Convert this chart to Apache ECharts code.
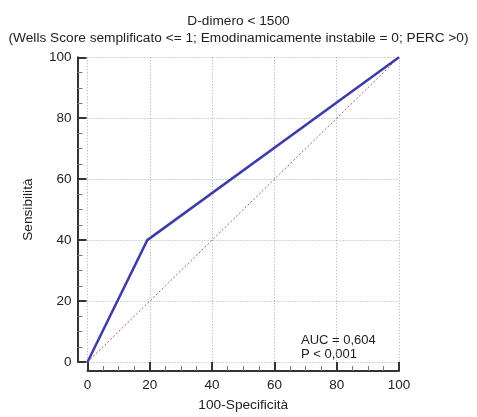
<!DOCTYPE html>
<html><head><meta charset="utf-8">
<script src="https://cdn.jsdelivr.net/npm/echarts@6/dist/echarts.min.js"></script>
<style>html,body{margin:0;padding:0;background:#fff}#c{width:477px;height:417px}</style>
</head><body><div id="c"></div>
<script>
var titleLines = ["D-dimero < 1500", "(Wells Score semplificato <= 1; Emodinamicamente instabile = 0; PERC >0)"];
var rocX = [0, 19.2, 100];
var rocY = [0, 40, 100];
var refX = [0, 100];
var refY = [0, 100];
var xName = "100-Specificità";
var yName = "Sensibilità";
var statsText = ["AUC = 0,604", "P < 0,001"];

var FONT = "'Liberation Sans', Arial, sans-serif";
var chart = echarts.init(document.getElementById('c'));
function pairs(xs, ys){ return xs.map(function(x,i){return [x, ys[i]];}); }
var axisCommon = {
  type: 'value', min: 0, max: 100, interval: 20,
  axisLine: {show: true, onZero: false, lineStyle: {color: '#333', width: 2}},
  axisTick: {show: true, inside: true, length: 9, lineStyle: {color: '#333', width: 2}},
  minorTick: {show: true, splitNumber: 4, length: 5, lineStyle: {color: '#777', width: 1}},
  splitLine: {show: true, lineStyle: {color: '#aaa', type: [1, 2], width: 1}},
  axisLabel: {color: '#222', fontSize: 13.5, fontFamily: FONT},
  nameLocation: 'middle',
  nameTextStyle: {color: '#222', fontSize: 13.7, fontFamily: FONT}
};
chart.setOption({
  animation: false,
  backgroundColor: '#fff',
  title: {
    text: titleLines.join('\n'), left: 'center', top: 8,
    textStyle: {fontSize: 13.7, fontWeight: 'normal', color: '#222', fontFamily: FONT, lineHeight: 17}
  },
  grid: {left: 87.5, right: 78, top: 57.3, bottom: 50.3, containLabel: false},
  xAxis: Object.assign({}, axisCommon, {
    offset: 9, name: xName, nameGap: 27,
    axisLabel: Object.assign({}, axisCommon.axisLabel, {margin: 7})
  }),
  yAxis: Object.assign({}, axisCommon, {
    offset: 10, name: yName, nameGap: 42,
    axisLabel: Object.assign({}, axisCommon.axisLabel, {margin: 6})
  }),
  graphic: [{
    type: 'text', left: 301, top: 333,
    style: {text: statsText.join('\n'), fill: '#222', font: '13px ' + FONT, lineHeight: 14}
  }],
  series: [
    {type: 'line', data: pairs(refX, refY), symbol: 'none', silent: true,
     lineStyle: {color: '#c05858', width: 1, type: [2, 2]}},
    {type: 'line', data: pairs(rocX, rocY), symbol: 'none',
     lineStyle: {color: '#3c3caa', width: 2.5}}
  ]
});
</script></body></html>
